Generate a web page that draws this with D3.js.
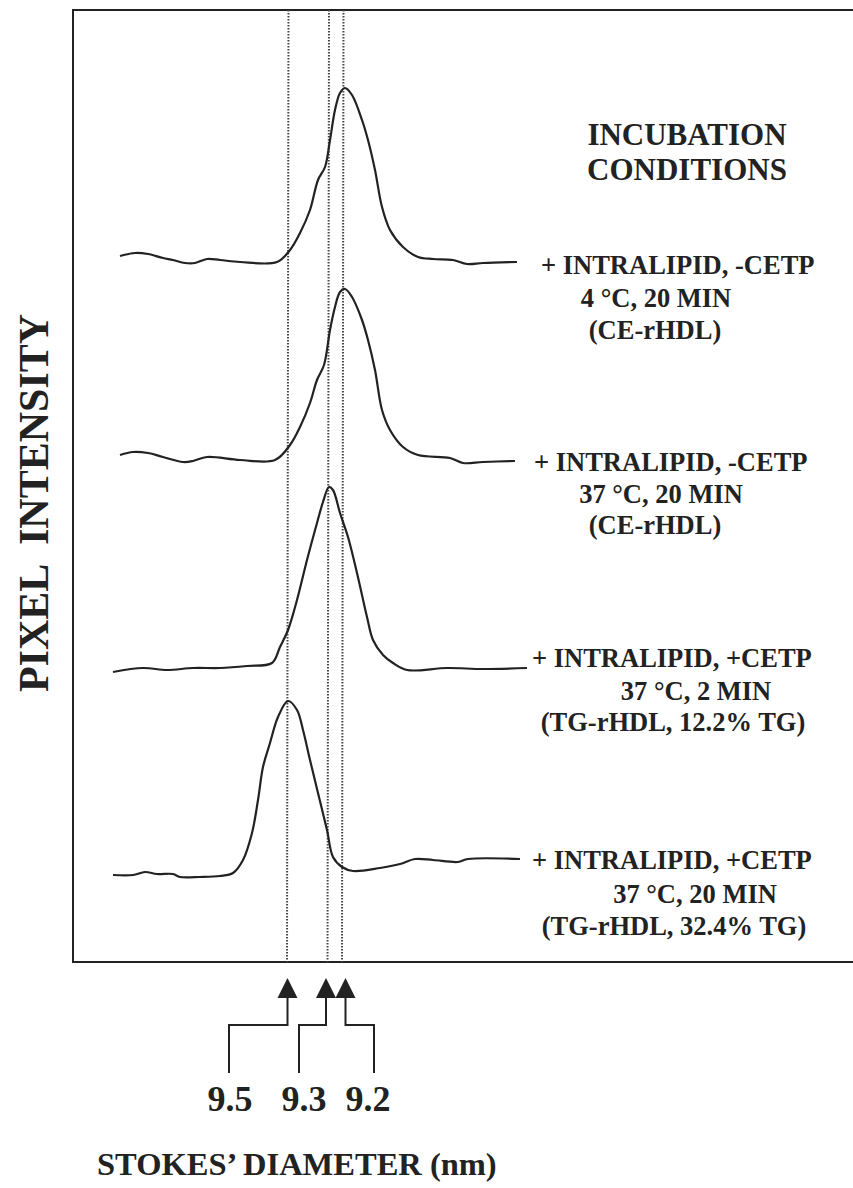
<!DOCTYPE html>
<html>
<head>
<meta charset="utf-8">
<script src="https://cdn.jsdelivr.net/npm/d3@7"></script>
<style>
  body { margin: 0; background: #fff; }
  text { font-family: "Liberation Serif", "Times New Roman", serif; font-weight: bold; fill: #222; }
</style>
</head>
<body>
<svg id="chart"></svg>
<script>
// migration distance (arbitrary units) vs pixel intensity
var trace1 = [[7,8],[22,11],[35,10],[50,6],[60,4],[72,1],[82,1],[94,5],[107,4],[127,2],[164,2],[177,14],[187,31],[197,54],[205,84],[212,97],[217,124],[222,154],[227,171],[232,176],[239,169],[249,144],[255,124],[262,94],[269,57],[277,34],[290,17],[305,7],[320,5],[340,4],[354,0],[370,1],[404,2]];
var trace2 = [[7,9],[20,12],[35,11],[50,7],[70,2],[80,3],[94,7],[127,4],[162,4],[177,19],[187,37],[197,61],[204,84],[211,99],[217,134],[222,157],[227,172],[232,175],[239,167],[249,144],[255,124],[262,94],[269,54],[277,34],[290,17],[305,9],[337,6],[350,1],[370,2],[402,3]];
var trace3 = [[0,0],[30,4],[54,2],[80,4],[107,4],[134,6],[159,9],[167,25],[175,42],[184,72],[194,112],[204,149],[210,170],[216,185],[220,182],[227,159],[235,135],[244,99],[254,55],[260,32],[270,17],[280,9],[294,2],[334,4],[370,3],[414,4]];
var trace4 = [[0,3],[20,3],[32,6],[44,4],[60,4],[67,1],[87,1],[107,2],[120,5],[130,18],[139,45],[145,78],[150,111],[157,135],[165,161],[175,177],[184,168],[190,148],[197,118],[205,85],[214,48],[220,21],[229,11],[240,7],[267,10],[287,14],[302,19],[320,18],[345,16],[355,19],[407,19]];

var conditions = [
  ["+ INTRALIPID, -CETP", "4 \u00B0C, 20 MIN", "(CE-rHDL)"],
  ["+ INTRALIPID, -CETP", "37 \u00B0C, 20 MIN", "(CE-rHDL)"],
  ["+ INTRALIPID, +CETP", "37 \u00B0C, 2 MIN", "(TG-rHDL, 12.2% TG)"],
  ["+ INTRALIPID, +CETP", "37 \u00B0C, 20 MIN", "(TG-rHDL, 32.4% TG)"]
];

// Stokes' diameters (nm) and where their peaks sit on the distance axis
var diameters = ["9.5", "9.3", "9.2"];
var peakPos = [175.5, 216, 230.5];

var W = 853, H = 1188;
var svg = d3.select("#chart").attr("width", W).attr("height", H);

var x = d3.scaleLinear().domain([0, 417]).range([113, 530]);
var y = d3.scaleLinear().domain([0, 200]).range([0, -200]);

var frame = {left: 73, top: 10, bottom: 962};
var baselines = [264, 464, 672, 878];

// frame: top, left, bottom
svg.append("path")
  .attr("d", "M" + W + "," + frame.top + "H" + frame.left + "V" + frame.bottom + "H" + W)
  .attr("fill", "none").attr("stroke", "#222").attr("stroke-width", 2);

// dotted peak markers
svg.selectAll(".marker").data(peakPos).enter().append("line")
  .attr("class", "marker")
  .attr("x1", function(d) { return x(d); })
  .attr("x2", function(d) { return x(d) - 1.5; })
  .attr("y1", frame.top).attr("y2", frame.bottom)
  .attr("stroke", "#444").attr("stroke-width", 2)
  .attr("stroke-dasharray", "1.5,1.5");

var line = d3.line()
  .x(function(d) { return x(d[0]); })
  .y(function(d) { return y(d[1]); })
  .curve(d3.curveCatmullRom.alpha(0.5));

[trace1, trace2, trace3, trace4].forEach(function(t, i) {
  svg.append("g").attr("transform", "translate(0," + baselines[i] + ")")
    .append("path").attr("d", line(t))
    .attr("fill", "none").attr("stroke", "#222").attr("stroke-width", 2.2);
});

// condition labels
var labelLayout = [
  {x: [541, 656, 655], y: [274, 307, 339]},
  {x: [534, 661, 655], y: [471, 503, 534]},
  {x: [532, 696, 673], y: [667, 700, 731]},
  {x: [532, 695, 674], y: [869, 903, 935]}
];
conditions.forEach(function(c, i) {
  c.forEach(function(s, j) {
    svg.append("text")
      .attr("x", labelLayout[i].x[j]).attr("y", labelLayout[i].y[j])
      .attr("text-anchor", j === 0 ? "start" : "middle")
      .style("font-size", "26.5px")
      .text(s);
  });
});

svg.append("text").attr("x", 687).attr("y", 145).attr("text-anchor", "middle")
  .style("font-size", "31px").text("INCUBATION");
svg.append("text").attr("x", 687).attr("y", 180).attr("text-anchor", "middle")
  .style("font-size", "31px").text("CONDITIONS");

// y axis title
svg.append("text")
  .attr("transform", "translate(48,503) rotate(-90)")
  .attr("text-anchor", "middle")
  .style("font-size", "42px").style("white-space", "pre")
  .text("PIXEL  INTENSITY");

// arrows to the Stokes' diameter labels
var arrowShift = [0, -2, 3];
var labelX = [230, 304, 368];
var connX = [229, 299, 374];
diameters.forEach(function(d, i) {
  var ax = x(peakPos[i]) - 1 + arrowShift[i];
  svg.append("path")
    .attr("d", "M" + ax + ",978L" + (ax - 10) + ",998L" + (ax + 10) + ",998Z")
    .attr("fill", "#222");
  svg.append("path")
    .attr("d", "M" + ax + ",996V1025H" + connX[i] + "V1073")
    .attr("fill", "none").attr("stroke", "#222").attr("stroke-width", 2);
  svg.append("text").attr("x", labelX[i]).attr("y", 1111)
    .attr("text-anchor", "middle").style("font-size", "36px").text(d);
});

svg.append("text").attr("x", 97).attr("y", 1175)
  .style("font-size", "32.5px").text("STOKES\u2019 DIAMETER (nm)");
</script>
</body>
</html>
